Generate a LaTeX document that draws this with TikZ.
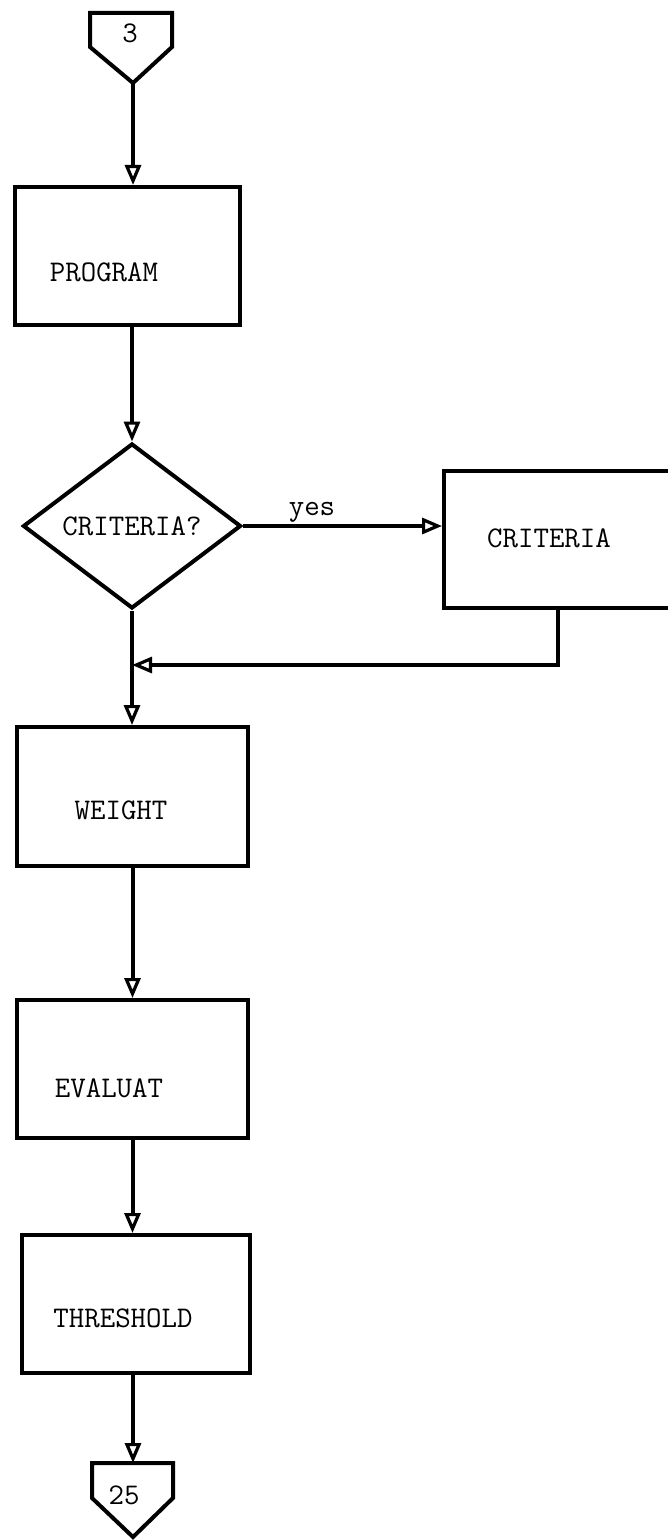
\documentclass[tikz,border=0pt]{standalone}
\usetikzlibrary{arrows.meta, positioning, shapes.geometric}

\newcommand{\flowfont}{\ttfamily\fontsize{15}{17}\selectfont}

\begin{document}
\begin{tikzpicture}[
    x=0.5pt, y=-0.5pt,
    process/.style={rectangle, draw=black, line width=2pt,
                    minimum width=115pt, minimum height=69pt, inner sep=0pt},
    decision/.style={diamond, draw=black, line width=2pt,
                     minimum width=109pt, minimum height=82.5pt, inner sep=0pt,
                     font=\flowfont},
    tag/.style={inner sep=0pt, font=\flowfont},
    outline/.style={draw=black, line width=2pt, line join=miter},
    relation/.style={-{Triangle[open, length=10pt, width=8pt, line width=1.6pt]}, line width=2pt}
]
\useasboundingbox (0,0) rectangle (668,1540);
\clip (0,0) rectangle (668,1540);

% Off-page connector in
\draw[outline] (90,13) -- (172,13) -- (172,47) -- (133,83) -- (90,47) -- cycle;
\node[tag] (inPage) at (130,33) {3};
\coordinate (inTip) at (133,83);

% Define blocks
\node[process, minimum width=112.5pt] (program) at (127.5,256) {};
\node[tag] (programText) at (104,272) {PROGRAM};

\node[decision] (criteriaQ) at (132,526) {CRITERIA?};

\node[process, minimum width=114pt, minimum height=68.5pt] (criteria) at (558,539.5) {};
\node[tag] (criteriaText) at (549,538) {CRITERIA};
\node[tag] (yes) at (312,512) {yes};

\node[process, minimum width=115.5pt, minimum height=69.5pt] (weight) at (132.5,796.5) {};
\node[tag] (weightText) at (121,810) {WEIGHT};

\node[process, minimum width=115.5pt] (evaluat) at (132.5,1069) {};
\node[tag] (evaluatText) at (109,1088) {EVALUAT};

\node[process, minimum width=114pt] (threshold) at (136,1304) {};
\node[tag] (thresholdText) at (123,1318) {THRESHOLD};

% Off-page connector out
\draw[outline] (92,1463) -- (173,1463) -- (173,1498) -- (133,1537) -- (92,1498) -- cycle;
\node[tag] (outPage) at (124,1495) {25};
\coordinate (outTop) at (133,1463);

\coordinate (merge) at (132,665);

% Relations
\draw[relation] (inTip) -- (inTip |- program.north);
\draw[relation] (criteriaQ.north |- program.south) -- (criteriaQ.north);
\draw[relation] (criteriaQ.east) -- (criteriaQ.east -| criteria.west);
\draw[relation] (criteria.south) |- (merge);
\draw[relation] (criteriaQ.south) -- (criteriaQ.south |- weight.north);
\draw[relation] (weight.south) -- (evaluat.north);
\draw[relation] (evaluat.south) -- (evaluat.south |- threshold.north);
\draw[relation] (threshold.south -| outTop) -- (outTop);

\end{tikzpicture}
\end{document}
